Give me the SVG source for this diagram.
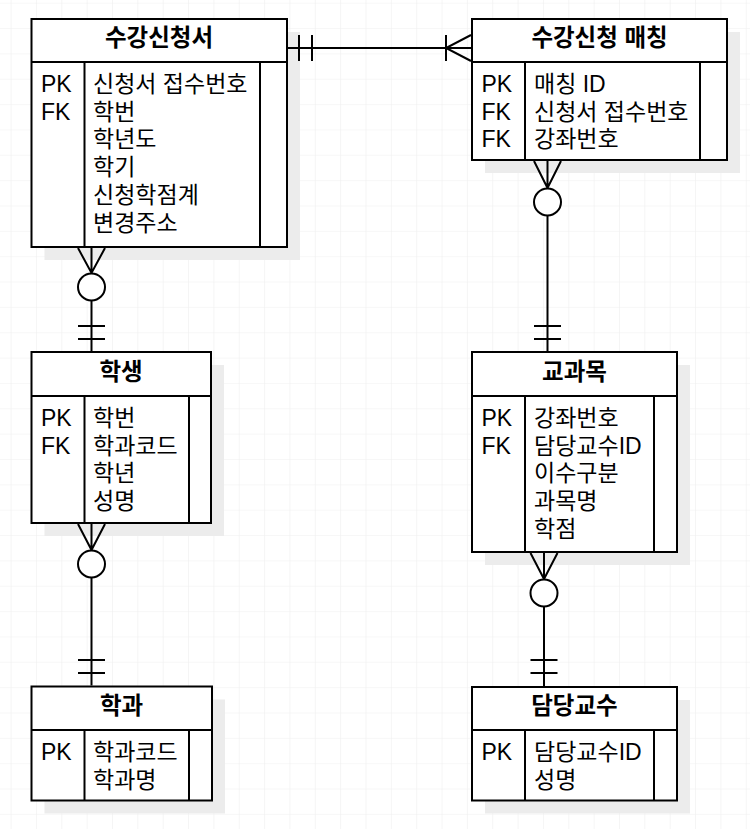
<svg xmlns="http://www.w3.org/2000/svg" width="750" height="829" viewBox="0 0 750 829">
  <style>
    .box { fill: #ffffff; stroke: #000000; stroke-width: 2; }
    .shadow { fill: #ececec; stroke: none; }
    .ln { fill: none; stroke: #000000; stroke-width: 2; }
    .t { font-family: "Liberation Sans", "Noto Sans CJK KR", sans-serif; font-size: 23px; fill: #000000; }
    .title { font-weight: bold; font-size: 23.5px; text-anchor: middle; }
    .circ { fill: #ffffff; stroke: #000000; stroke-width: 2; }
  </style>
  <defs>
    <pattern id="grid" patternUnits="userSpaceOnUse" x="10.6" y="2.7" width="25.35" height="25.35">
      <path d="M 25.35 0 L 0 0 0 25.35" fill="none" stroke="#efefef" stroke-width="1.2"/>
    </pattern>
  </defs>
  <rect x="0" y="0" width="750" height="829" fill="#ffffff"/>
  <rect x="0" y="0" width="750" height="829" fill="url(#grid)"/>

  <g id="node-sugangsincheongseo">
    <rect class="shadow" x="44.5" y="32" width="255.5" height="228"/>
    <rect class="box" x="31.5" y="19" width="255.5" height="228"/>
    <path class="ln" d="M 31.5 62 L 287 62 M 84.5 62 L 84.5 247 M 260 62 L 260 247"/>
    <text class="t title" x="159" y="46">수강신청서</text>
    <text class="t" x="41" y="92">PK</text>
    <text class="t" x="41" y="119.7">FK</text>
    <text class="t" x="93" y="92">신청서 접수번호</text>
    <text class="t" x="93" y="119.7">학번</text>
    <text class="t" x="93" y="147.4">학년도</text>
    <text class="t" x="93" y="175.1">학기</text>
    <text class="t" x="93" y="202.8">신청학점계</text>
    <text class="t" x="93" y="230.5">변경주소</text>
  </g>

  <g id="node-matching">
    <rect class="shadow" x="485" y="32" width="255" height="141"/>
    <rect class="box" x="472" y="19" width="255" height="141"/>
    <path class="ln" d="M 472 62 L 727 62 M 525 62 L 525 160 M 700 62 L 700 160"/>
    <text class="t title" x="599.5" y="46">수강신청 매칭</text>
    <text class="t" x="481.5" y="92">PK</text>
    <text class="t" x="481.5" y="119.7">FK</text>
    <text class="t" x="481.5" y="147.4">FK</text>
    <text class="t" x="534" y="92">매칭 ID</text>
    <text class="t" x="534" y="119.7">신청서 접수번호</text>
    <text class="t" x="534" y="147.4">강좌번호</text>
  </g>

  <g id="node-student">
    <rect class="shadow" x="44.5" y="365" width="179.5" height="171"/>
    <rect class="box" x="31.5" y="352" width="179.5" height="171"/>
    <path class="ln" d="M 31.5 396 L 211 396 M 84.5 396 L 84.5 523 M 189 396 L 189 523"/>
    <text class="t title" x="121" y="379.5">학생</text>
    <text class="t" x="41" y="426">PK</text>
    <text class="t" x="41" y="453.7">FK</text>
    <text class="t" x="93" y="426">학번</text>
    <text class="t" x="93" y="453.7">학과코드</text>
    <text class="t" x="93" y="481.4">학년</text>
    <text class="t" x="93" y="509.1">성명</text>
  </g>

  <g id="node-course">
    <rect class="shadow" x="485" y="365" width="205" height="200"/>
    <rect class="box" x="472" y="352" width="205" height="200"/>
    <path class="ln" d="M 472 396 L 677 396 M 525 396 L 525 552 M 654 396 L 654 552"/>
    <text class="t title" x="574.5" y="379.5">교과목</text>
    <text class="t" x="481.5" y="426">PK</text>
    <text class="t" x="481.5" y="453.7">FK</text>
    <text class="t" x="534" y="426">강좌번호</text>
    <text class="t" x="534" y="453.7">담당교수ID</text>
    <text class="t" x="534" y="481.4">이수구분</text>
    <text class="t" x="534" y="509.1">과목명</text>
    <text class="t" x="534" y="536.8">학점</text>
  </g>

  <g id="node-department">
    <rect class="shadow" x="44.5" y="699.5" width="180.5" height="114"/>
    <rect class="box" x="31.5" y="686.5" width="180.5" height="114"/>
    <path class="ln" d="M 31.5 730 L 212 730 M 84.5 730 L 84.5 800.5 M 189 730 L 189 800.5"/>
    <text class="t title" x="121.5" y="713.5">학과</text>
    <text class="t" x="41" y="760">PK</text>
    <text class="t" x="93" y="760">학과코드</text>
    <text class="t" x="93" y="787.7">학과명</text>
  </g>

  <g id="node-professor">
    <rect class="shadow" x="485" y="700" width="205" height="113.5"/>
    <rect class="box" x="472" y="687" width="205" height="113.5"/>
    <path class="ln" d="M 472 730 L 677 730 M 525 730 L 525 800.5 M 654 730 L 654 800.5"/>
    <text class="t title" x="574.5" y="713.5">담당교수</text>
    <text class="t" x="481.5" y="760">PK</text>
    <text class="t" x="534" y="760">담당교수ID</text>
    <text class="t" x="534" y="787.7">성명</text>
  </g>

  <g id="connectors">
    <!-- 수강신청서 - 수강신청 매칭 -->
    <path class="ln" d="M 288 48 L 472 48"/>
    <path class="ln" d="M 299 35 L 299 61 M 312 35 L 312 61"/>
    <path class="ln" d="M 446 35 L 446 61 M 471 35 L 446 48 L 471 61"/>
    <!-- 수강신청서 - 학생 -->
    <path class="ln" d="M 91.5 248 L 91.5 273 M 78 248 L 91.5 273 L 105 248"/>
    <circle class="circ" cx="91.5" cy="287" r="13.5"/>
    <path class="ln" d="M 91.5 300.5 L 91.5 351"/>
    <path class="ln" d="M 78 326 L 105 326 M 78 339 L 105 339"/>
    <!-- 학생 - 학과 -->
    <path class="ln" d="M 91.5 524 L 91.5 550 M 78 524 L 91.5 550 L 105 524"/>
    <circle class="circ" cx="91.5" cy="564" r="13.5"/>
    <path class="ln" d="M 91.5 577.5 L 91.5 685.5"/>
    <path class="ln" d="M 78 660 L 105 660 M 78 673 L 105 673"/>
    <!-- 수강신청 매칭 - 교과목 -->
    <path class="ln" d="M 547.5 161 L 547.5 188 M 534 161 L 547.5 188 L 561 161"/>
    <circle class="circ" cx="547.5" cy="202" r="13.5"/>
    <path class="ln" d="M 547.5 215.5 L 547.5 351"/>
    <path class="ln" d="M 534 326 L 561 326 M 534 339 L 561 339"/>
    <!-- 교과목 - 담당교수 -->
    <path class="ln" d="M 544 553 L 544 579 M 530.5 553 L 544 579 L 557.5 553"/>
    <circle class="circ" cx="544" cy="593" r="13.5"/>
    <path class="ln" d="M 544 606.5 L 544 686"/>
    <path class="ln" d="M 530.5 660 L 557.5 660 M 530.5 673 L 557.5 673"/>
  </g>
</svg>
